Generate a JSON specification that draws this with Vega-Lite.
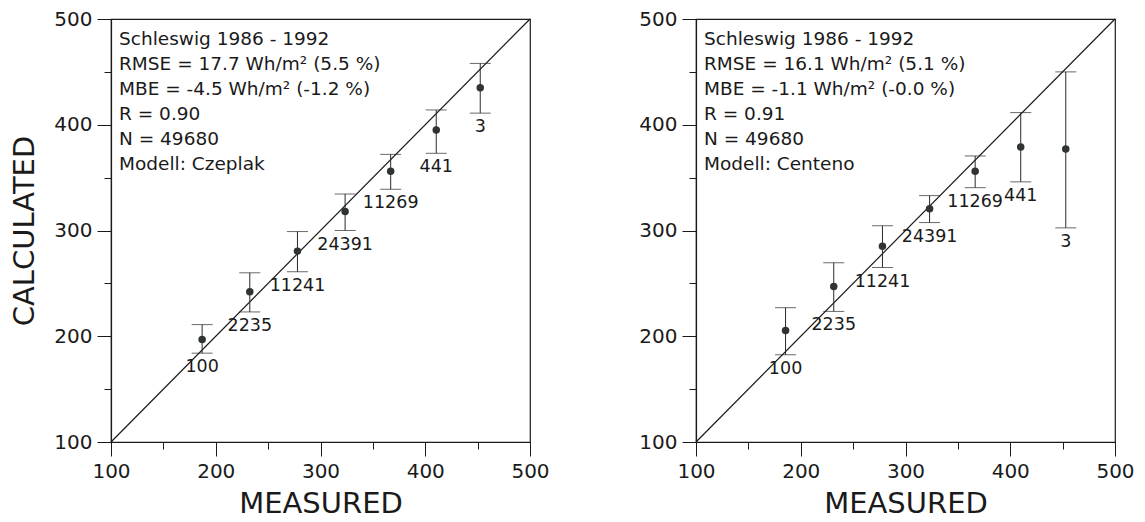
{
  "$schema": "https://vega.github.io/schema/vega-lite/v6.json",
  "background": "white",
  "padding": {"left": 10, "top": 8, "right": 10, "bottom": 4},
  "spacing": 88,
  "datasets": {
    "pts": [
      {"panel": "Czeplak", "n": "100", "m": 187, "c": 197, "lo": 184, "hi": 211},
      {"panel": "Czeplak", "n": "2235", "m": 232.5, "c": 242, "lo": 223, "hi": 260},
      {"panel": "Czeplak", "n": "11241", "m": 278, "c": 280.5, "lo": 261, "hi": 299},
      {"panel": "Czeplak", "n": "24391", "m": 323.5, "c": 318, "lo": 300, "hi": 334.5},
      {"panel": "Czeplak", "n": "11269", "m": 367, "c": 356, "lo": 339, "hi": 372},
      {"panel": "Czeplak", "n": "441", "m": 410.5, "c": 395, "lo": 373, "hi": 414},
      {"panel": "Czeplak", "n": "3", "m": 452.5, "c": 435, "lo": 411, "hi": 458},
      {"panel": "Centeno", "n": "100", "m": 185.5, "c": 205.5, "lo": 182.5, "hi": 227},
      {"panel": "Centeno", "n": "2235", "m": 231.5, "c": 247, "lo": 223.5, "hi": 269.5},
      {"panel": "Centeno", "n": "11241", "m": 278, "c": 285, "lo": 265, "hi": 304.5},
      {"panel": "Centeno", "n": "24391", "m": 323, "c": 320.5, "lo": 307.5, "hi": 333},
      {"panel": "Centeno", "n": "11269", "m": 366.5, "c": 356, "lo": 340.5, "hi": 370.5},
      {"panel": "Centeno", "n": "441", "m": 410, "c": 379, "lo": 346, "hi": 411.5},
      {"panel": "Centeno", "n": "3", "m": 453, "c": 377, "lo": 302.5, "hi": 450}
    ],
    "info": [
      {"panel": "Czeplak", "txt": "Schleswig 1986 - 1992\nRMSE = 17.7 Wh/m² (5.5 %)\nMBE = -4.5 Wh/m² (-1.2 %)\nR = 0.90\nN = 49680\nModell: Czeplak"},
      {"panel": "Centeno", "txt": "Schleswig 1986 - 1992\nRMSE = 16.1 Wh/m² (5.1 %)\nMBE = -1.1 Wh/m² (-0.0 %)\nR = 0.91\nN = 49680\nModell: Centeno"}
    ],
    "diag": [{"m": 100, "c": 100, "m2": 500, "c2": 500}]
  },
  "hconcat": [
    {
      "width": 419,
      "height": 423,
      "layer": [
        {
          "data": {"name": "diag"},
          "mark": {"type": "rule", "color": "#1a1a1a", "strokeWidth": 1.2},
          "encoding": {
            "x": {"field": "m", "type": "quantitative", "scale": {"domain": [100, 500], "nice": false, "zero": false},
              "axis": {"title": "MEASURED", "values": [100, 150, 200, 250, 300, 350, 400, 450, 500],
                "tickSize": {"condition": {"test": "datum.value % 100 === 0", "value": 14}, "value": 7},
                "labelExpr": "datum.value % 100 === 0 ? datum.label : ''"}},
            "y": {"field": "c", "type": "quantitative", "scale": {"domain": [100, 500], "nice": false, "zero": false},
              "axis": {"title": "CALCULATED", "titlePadding": 14, "values": [100, 150, 200, 250, 300, 350, 400, 450, 500],
                "tickSize": {"condition": {"test": "datum.value % 100 === 0", "value": 14}, "value": 7},
                "labelExpr": "datum.value % 100 === 0 ? datum.label : ''"}},
            "x2": {"field": "m2"},
            "y2": {"field": "c2"}
          }
        },
        {
          "data": {"name": "pts"},
          "transform": [{"filter": "datum.panel === 'Czeplak'"}],
          "mark": {"type": "rule", "color": "#2a2a2a", "strokeWidth": 1},
          "encoding": {
            "x": {"field": "m", "type": "quantitative"},
            "y": {"field": "lo", "type": "quantitative"},
            "y2": {"field": "hi"}
          }
        },
        {
          "data": {"name": "pts"},
          "transform": [{"filter": "datum.panel === 'Czeplak'"}, {"fold": ["lo", "hi"], "as": ["end", "v"]}],
          "mark": {"type": "tick", "orient": "horizontal", "size": 21, "thickness": 1, "color": "#2a2a2a"},
          "encoding": {
            "x": {"field": "m", "type": "quantitative"},
            "y": {"field": "v", "type": "quantitative"}
          }
        },
        {
          "data": {"name": "pts"},
          "transform": [{"filter": "datum.panel === 'Czeplak'"}],
          "mark": {"type": "point", "filled": true, "shape": "circle", "size": 56, "color": "#2f3333", "opacity": 1},
          "encoding": {
            "x": {"field": "m", "type": "quantitative"},
            "y": {"field": "c", "type": "quantitative"}
          }
        },
        {
          "data": {"name": "pts"},
          "transform": [{"filter": "datum.panel === 'Czeplak'"}],
          "mark": {"type": "text", "baseline": "top", "align": "center", "dy": 5, "fontSize": 17.5, "color": "#1a1a1a"},
          "encoding": {
            "x": {"field": "m", "type": "quantitative"},
            "y": {"field": "lo", "type": "quantitative"},
            "text": {"field": "n"}
          }
        },
        {
          "data": {"name": "info"},
          "transform": [{"filter": "datum.panel === 'Czeplak'"}],
          "mark": {"type": "text", "align": "left", "baseline": "alphabetic", "dx": 8, "dy": 26, "lineBreak": "\n", "lineHeight": 25, "fontSize": 18.5, "color": "#1a1a1a"},
          "encoding": {
            "x": {"datum": 100, "type": "quantitative"},
            "y": {"datum": 500, "type": "quantitative"},
            "text": {"field": "txt"}
          }
        }
      ]
    },
    {
      "width": 419,
      "height": 423,
      "layer": [
        {
          "data": {"name": "diag"},
          "mark": {"type": "rule", "color": "#1a1a1a", "strokeWidth": 1.2},
          "encoding": {
            "x": {"field": "m", "type": "quantitative", "scale": {"domain": [100, 500], "nice": false, "zero": false},
              "axis": {"title": "MEASURED", "values": [100, 150, 200, 250, 300, 350, 400, 450, 500],
                "tickSize": {"condition": {"test": "datum.value % 100 === 0", "value": 14}, "value": 7},
                "labelExpr": "datum.value % 100 === 0 ? datum.label : ''"}},
            "y": {"field": "c", "type": "quantitative", "scale": {"domain": [100, 500], "nice": false, "zero": false},
              "axis": {"title": null, "values": [100, 150, 200, 250, 300, 350, 400, 450, 500],
                "tickSize": {"condition": {"test": "datum.value % 100 === 0", "value": 14}, "value": 7},
                "labelExpr": "datum.value % 100 === 0 ? datum.label : ''"}},
            "x2": {"field": "m2"},
            "y2": {"field": "c2"}
          }
        },
        {
          "data": {"name": "pts"},
          "transform": [{"filter": "datum.panel === 'Centeno'"}],
          "mark": {"type": "rule", "color": "#2a2a2a", "strokeWidth": 1},
          "encoding": {
            "x": {"field": "m", "type": "quantitative"},
            "y": {"field": "lo", "type": "quantitative"},
            "y2": {"field": "hi"}
          }
        },
        {
          "data": {"name": "pts"},
          "transform": [{"filter": "datum.panel === 'Centeno'"}, {"fold": ["lo", "hi"], "as": ["end", "v"]}],
          "mark": {"type": "tick", "orient": "horizontal", "size": 21, "thickness": 1, "color": "#2a2a2a"},
          "encoding": {
            "x": {"field": "m", "type": "quantitative"},
            "y": {"field": "v", "type": "quantitative"}
          }
        },
        {
          "data": {"name": "pts"},
          "transform": [{"filter": "datum.panel === 'Centeno'"}],
          "mark": {"type": "point", "filled": true, "shape": "circle", "size": 56, "color": "#2f3333", "opacity": 1},
          "encoding": {
            "x": {"field": "m", "type": "quantitative"},
            "y": {"field": "c", "type": "quantitative"}
          }
        },
        {
          "data": {"name": "pts"},
          "transform": [{"filter": "datum.panel === 'Centeno'"}],
          "mark": {"type": "text", "baseline": "top", "align": "center", "dy": 5, "fontSize": 17.5, "color": "#1a1a1a"},
          "encoding": {
            "x": {"field": "m", "type": "quantitative"},
            "y": {"field": "lo", "type": "quantitative"},
            "text": {"field": "n"}
          }
        },
        {
          "data": {"name": "info"},
          "transform": [{"filter": "datum.panel === 'Centeno'"}],
          "mark": {"type": "text", "align": "left", "baseline": "alphabetic", "dx": 8, "dy": 26, "lineBreak": "\n", "lineHeight": 25, "fontSize": 18.5, "color": "#1a1a1a"},
          "encoding": {
            "x": {"datum": 100, "type": "quantitative"},
            "y": {"datum": 500, "type": "quantitative"},
            "text": {"field": "txt"}
          }
        }
      ]
    }
  ],
  "config": {
    "font": "DejaVu Sans",
    "view": {"stroke": "#1a1a1a", "strokeWidth": 1.2},
    "axis": {
      "grid": false,
      "domainColor": "#1a1a1a",
      "domainWidth": 1.2,
      "tickColor": "#1a1a1a",
      "tickWidth": 1,
      "labelColor": "#1a1a1a",
      "labelFont": "DejaVu Sans",
      "labelFontSize": 20,
      "labelPadding": 5,
      "labelOverlap": false,
      "labelFlush": false,
      "titleColor": "#1a1a1a",
      "titleFont": "DejaVu Sans",
      "titleFontSize": 29,
      "titleFontWeight": "normal",
      "titlePadding": 8
    }
  }
}
